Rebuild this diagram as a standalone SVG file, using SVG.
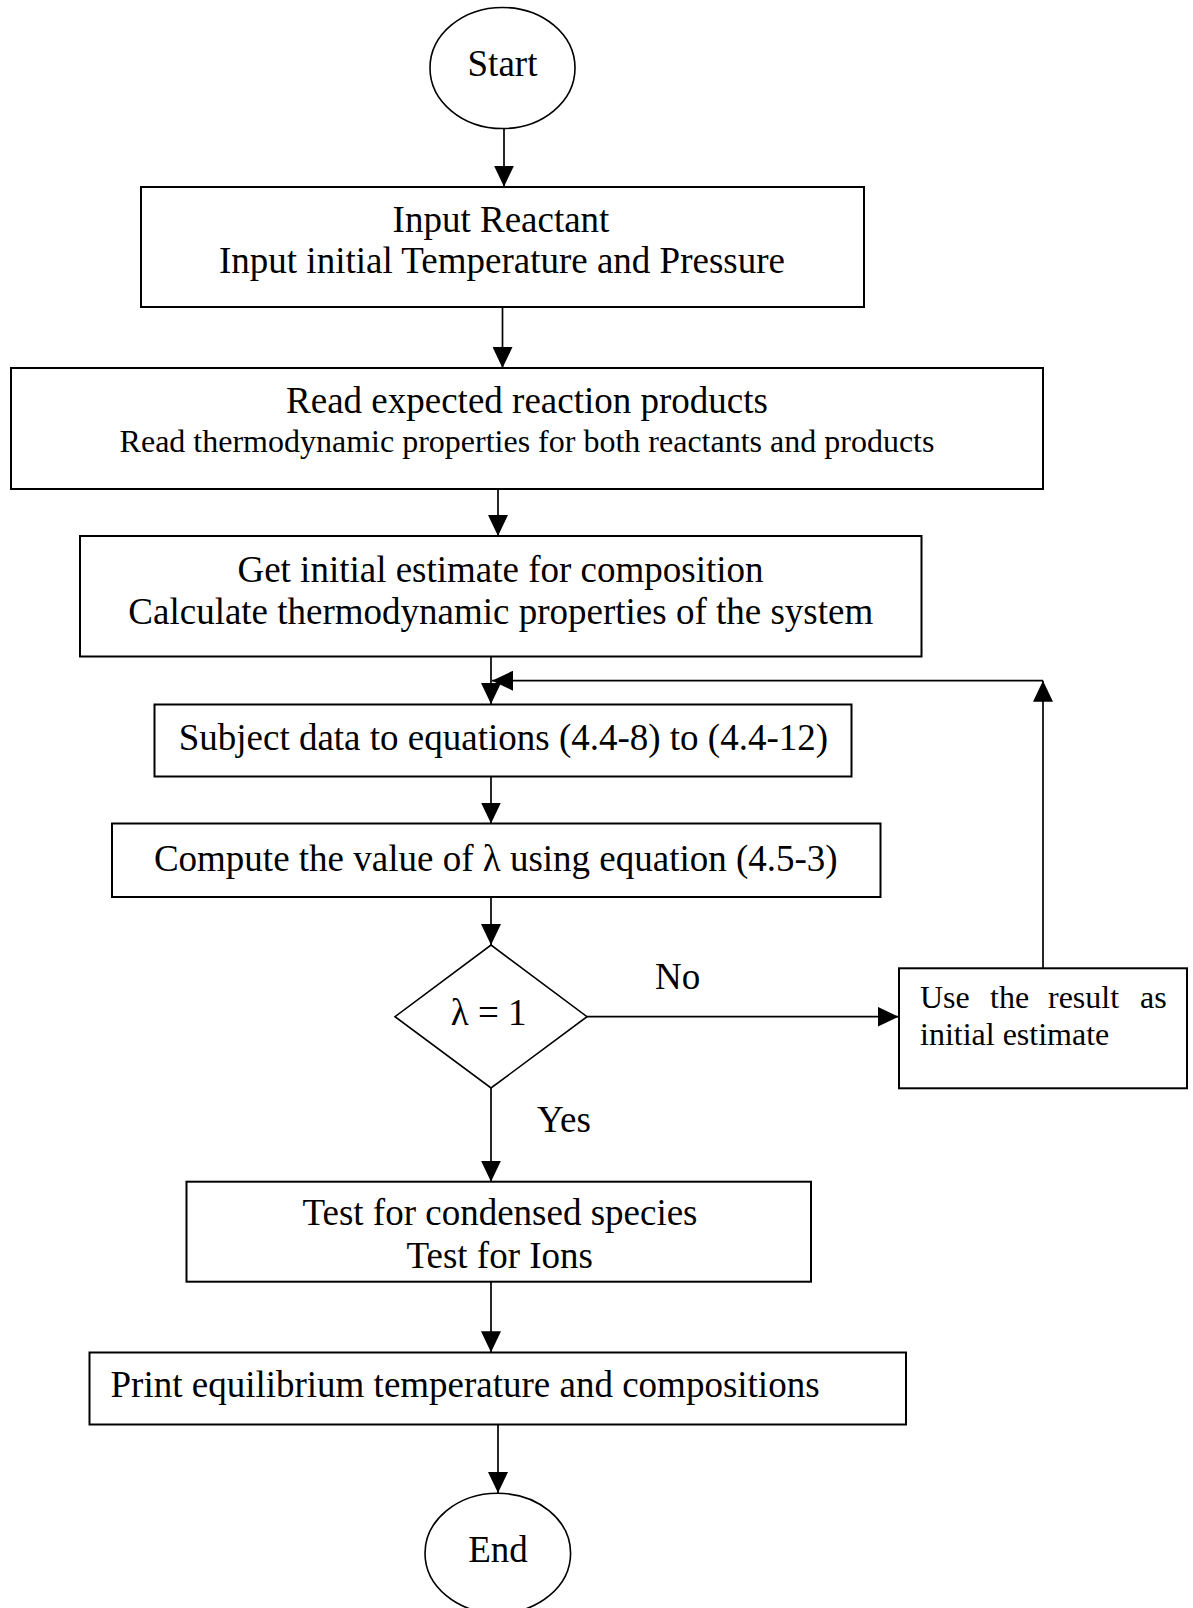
<svg xmlns="http://www.w3.org/2000/svg" width="1193" height="1608" viewBox="0 0 1193 1608">
<style>
  .box { fill: #fff; stroke: #000; stroke-width: 2; }
  .term { fill: #fff; stroke: #000; stroke-width: 1.6; }
  .t { font-family: "Liberation Serif", "Times New Roman", serif; font-size: 37px; fill: #000; }
  .s { font-size: 32px; }
  .c { text-anchor: middle; }
  .ln { fill: none; stroke: #000; stroke-width: 1.7; }
</style>
<defs>
  <marker id="ah" markerUnits="userSpaceOnUse" markerWidth="21" markerHeight="20" refX="21" refY="10" orient="auto" viewBox="0 0 21 20">
    <path d="M0,0 L21,10 L0,20 z" fill="#000"/>
  </marker>
</defs>
<rect width="1193" height="1608" fill="#fff"/>

<g id="connectors">
  <line class="ln" x1="504" y1="128.5" x2="504" y2="186.7" marker-end="url(#ah)"/>
  <line class="ln" x1="502.5" y1="307" x2="502.5" y2="368" marker-end="url(#ah)"/>
  <line class="ln" x1="498" y1="489" x2="498" y2="536" marker-end="url(#ah)"/>
  <line class="ln" x1="491" y1="656.5" x2="491" y2="704" marker-end="url(#ah)"/>
  <line class="ln" x1="491" y1="776.5" x2="491" y2="823.5" marker-end="url(#ah)"/>
  <line class="ln" x1="491" y1="897" x2="491" y2="945" marker-end="url(#ah)"/>
  <line class="ln" x1="587" y1="1016.7" x2="898.5" y2="1016.7" marker-end="url(#ah)"/>
  <line class="ln" x1="491" y1="1088" x2="491" y2="1181.7" marker-end="url(#ah)"/>
  <line class="ln" x1="491" y1="1281.7" x2="491" y2="1352.3" marker-end="url(#ah)"/>
  <line class="ln" x1="498" y1="1421" x2="498" y2="1493" marker-end="url(#ah)"/>
  <line class="ln" x1="1043" y1="968.3" x2="1043" y2="680.7" marker-end="url(#ah)"/>
  <line class="ln" x1="1043" y1="680.7" x2="492" y2="680.7" marker-end="url(#ah)"/>
  <text class="t" x="655" y="989">No</text>
  <text class="t" x="537" y="1132">Yes</text>
</g>

<g id="start">
  <ellipse class="term" cx="502.5" cy="68" rx="72.5" ry="60.5"/>
  <text class="t c" x="502.5" y="76">Start</text>
</g>

<g id="input">
  <rect class="box" x="141" y="187" width="723" height="120"/>
  <text class="t c" x="501" y="232">Input Reactant</text>
  <text class="t c" x="502" y="273">Input initial Temperature and Pressure</text>
</g>

<g id="read">
  <rect class="box" x="11" y="368" width="1032" height="121"/>
  <text class="t c" x="527" y="413">Read expected reaction products</text>
  <text class="t s c" x="527" y="451.7">Read thermodynamic properties for both reactants and products</text>
</g>

<g id="estimate">
  <rect class="box" x="80" y="536" width="841.5" height="120.5"/>
  <text class="t c" x="500.5" y="582.3">Get initial estimate for composition</text>
  <text class="t c" x="500.8" y="624.4">Calculate thermodynamic properties of the system</text>
</g>

<g id="subject">
  <rect class="box" x="154.5" y="704.5" width="697" height="72"/>
  <text class="t c" x="503.4" y="750">Subject data to equations (4.4-8) to (4.4-12)</text>
</g>

<g id="compute">
  <rect class="box" x="112" y="823.5" width="768.5" height="73.5"/>
  <text class="t c" x="495.8" y="871">Compute the value of λ using equation (4.5-3)</text>
</g>

<g id="decision">
  <polygon class="term" points="491,945 587,1016.7 491,1088 395,1016.7"/>
  <text class="t c" x="488.7" y="1025">λ = 1</text>
</g>

<g id="use-result">
  <rect class="box" x="899" y="968.3" width="288" height="120"/>
  <text class="t s" y="1008"><tspan x="920">Use</tspan><tspan x="990">the</tspan><tspan x="1048">result</tspan><tspan x="1140">as</tspan></text>
  <text class="t s" x="920" y="1045">initial estimate</text>
</g>

<g id="test">
  <rect class="box" x="186.5" y="1181.7" width="624.5" height="100"/>
  <text class="t c" x="500" y="1225">Test for condensed species</text>
  <text class="t c" x="499.7" y="1268">Test for Ions</text>
</g>

<g id="print">
  <rect class="box" x="89.5" y="1352.5" width="816.5" height="72"/>
  <text class="t" x="110.5" y="1397">Print equilibrium temperature and compositions</text>
</g>

<g id="end">
  <ellipse class="term" cx="497.8" cy="1553.3" rx="72.8" ry="60"/>
  <text class="t c" x="498" y="1561.7">End</text>
</g>
</svg>
